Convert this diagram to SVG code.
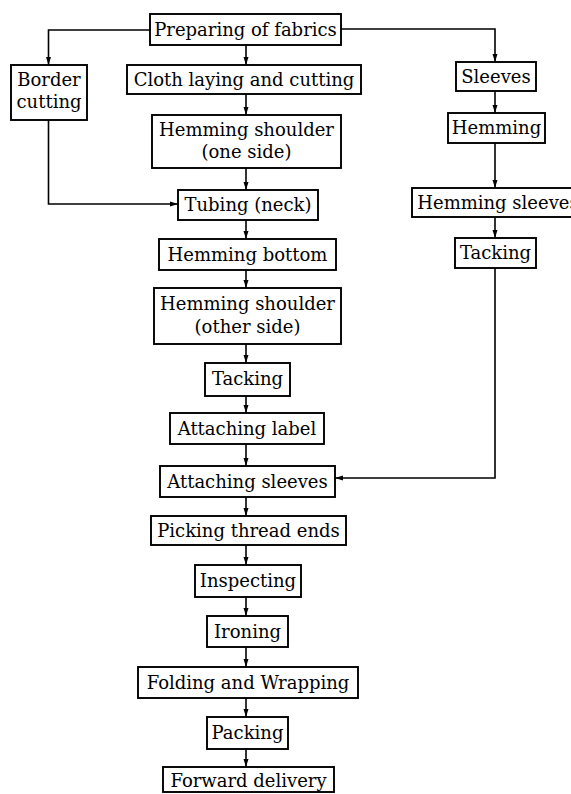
<svg xmlns="http://www.w3.org/2000/svg" width="571" height="794" viewBox="0 0 571 794">
  <defs>
    <marker id="arrow" markerWidth="8" markerHeight="6" refX="8" refY="3" orient="auto" markerUnits="userSpaceOnUse">
      <path d="M0,0.5 L8,3 L0,5.5 z" fill="#000"/>
    </marker>
  </defs>
  <style>
    .box { fill: #fff; stroke: #000; stroke-width: 1.9; }
    .lbl { font-family: "DejaVu Serif", "Liberation Serif", serif; font-size: 18px; fill: #000; text-anchor: middle; }
    .edge { fill: none; stroke: #000; stroke-width: 1.6; marker-end: url(#arrow); }
  </style>
  <rect width="571" height="794" fill="#fff"/>

  <!-- connectors -->
  <g id="connectors">
    <path class="edge" d="M150,30 H48.5 V65"/>
    <path class="edge" d="M341,29 H495 V62"/>
    <path class="edge" d="M246,45 V65"/>
    <path class="edge" d="M246,94 V115"/>
    <path class="edge" d="M246,168 V190"/>
    <path class="edge" d="M48.5,120 V204 H178"/>
    <path class="edge" d="M246,220 V239"/>
    <path class="edge" d="M246,270 V288"/>
    <path class="edge" d="M246,344 V363"/>
    <path class="edge" d="M246,396 V413"/>
    <path class="edge" d="M246,444 V466"/>
    <path class="edge" d="M246,497 V516"/>
    <path class="edge" d="M246,545 V565"/>
    <path class="edge" d="M246,597 V616"/>
    <path class="edge" d="M246,647 V667"/>
    <path class="edge" d="M246,698 V717"/>
    <path class="edge" d="M246,749 V767"/>
    <path class="edge" d="M495,91 V113"/>
    <path class="edge" d="M495,143 V188"/>
    <path class="edge" d="M495,217 V238"/>
    <path class="edge" d="M495,268 V478 H335"/>
  </g>

  <!-- process steps -->
  <g id="preparing">
    <rect class="box" x="150" y="14" width="191" height="31"/>
    <text class="lbl" x="245.5" y="36">Preparing of fabrics</text>
  </g>
  <g id="border-cutting">
    <rect class="box" x="11" y="65" width="76" height="55"/>
    <text class="lbl" x="49" y="86">Border</text>
    <text class="lbl" x="49" y="108">cutting</text>
  </g>
  <g id="cloth-laying">
    <rect class="box" x="127" y="65" width="234" height="29"/>
    <text class="lbl" x="244" y="86">Cloth laying and cutting</text>
  </g>
  <g id="sleeves">
    <rect class="box" x="456" y="62" width="80" height="29"/>
    <text class="lbl" x="496" y="83">Sleeves</text>
  </g>
  <g id="hemming-shoulder-one">
    <rect class="box" x="152" y="115" width="189" height="53"/>
    <text class="lbl" x="246.5" y="136">Hemming shoulder</text>
    <text class="lbl" x="246.5" y="158">(one side)</text>
  </g>
  <g id="hemming-right">
    <rect class="box" x="448" y="113" width="97" height="30"/>
    <text class="lbl" x="496.5" y="134">Hemming</text>
  </g>
  <g id="tubing">
    <rect class="box" x="178" y="190" width="140" height="30"/>
    <text class="lbl" x="248" y="211">Tubing (neck)</text>
  </g>
  <g id="hemming-sleeves">
    <rect class="box" x="412" y="188" width="172" height="29"/>
    <text class="lbl" x="498" y="209">Hemming sleeves</text>
  </g>
  <g id="hemming-bottom">
    <rect class="box" x="159" y="239" width="177" height="31"/>
    <text class="lbl" x="247.5" y="261">Hemming bottom</text>
  </g>
  <g id="tacking-right">
    <rect class="box" x="455" y="238" width="81" height="30"/>
    <text class="lbl" x="495.5" y="259">Tacking</text>
  </g>
  <g id="hemming-shoulder-other">
    <rect class="box" x="154" y="288" width="187" height="56"/>
    <text class="lbl" x="247.5" y="310">Hemming shoulder</text>
    <text class="lbl" x="247.5" y="333">(other side)</text>
  </g>
  <g id="tacking">
    <rect class="box" x="205" y="363" width="85" height="33"/>
    <text class="lbl" x="247.5" y="385">Tacking</text>
  </g>
  <g id="attaching-label">
    <rect class="box" x="170" y="413" width="154" height="31"/>
    <text class="lbl" x="247" y="435">Attaching label</text>
  </g>
  <g id="attaching-sleeves">
    <rect class="box" x="160" y="466" width="175" height="31"/>
    <text class="lbl" x="247.5" y="488">Attaching sleeves</text>
  </g>
  <g id="picking">
    <rect class="box" x="151" y="516" width="195" height="29"/>
    <text class="lbl" x="248.5" y="537">Picking thread ends</text>
  </g>
  <g id="inspecting">
    <rect class="box" x="195" y="565" width="106" height="32"/>
    <text class="lbl" x="248" y="587">Inspecting</text>
  </g>
  <g id="ironing">
    <rect class="box" x="207" y="616" width="81" height="31"/>
    <text class="lbl" x="247.5" y="638">Ironing</text>
  </g>
  <g id="folding">
    <rect class="box" x="138" y="667" width="220" height="31"/>
    <text class="lbl" x="248" y="689">Folding and Wrapping</text>
  </g>
  <g id="packing">
    <rect class="box" x="207" y="717" width="81" height="32"/>
    <text class="lbl" x="247.5" y="739">Packing</text>
  </g>
  <g id="forward-delivery">
    <rect class="box" x="163" y="767" width="171" height="25"/>
    <text class="lbl" x="248.5" y="787">Forward delivery</text>
  </g>
</svg>
